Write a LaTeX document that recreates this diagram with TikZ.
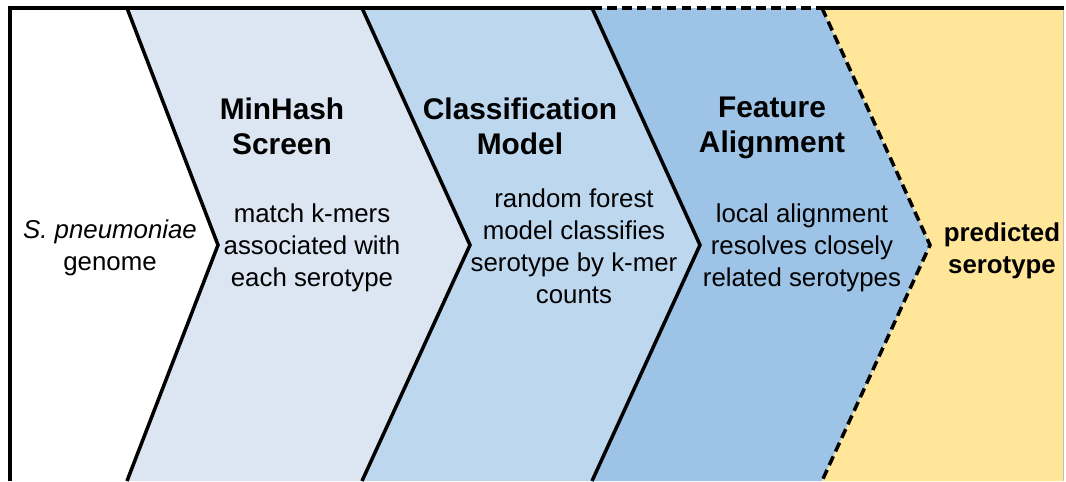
\documentclass[tikz,border=0pt]{standalone}
\usepackage{fontspec}
\setmainfont{Liberation Sans}
\usepackage{tikz}
\usetikzlibrary{positioning}
\definecolor{screenfill}{HTML}{DCE6F2}
\definecolor{modelfill}{HTML}{BDD7EE}
\definecolor{alignfill}{HTML}{9DC3E6}
\definecolor{resultfill}{HTML}{FFE699}

\begin{document}
\begin{tikzpicture}[x=0.02cm, y=-0.02cm,
  edge/.style={line width=2pt, line join=miter},
  dashedge/.style={edge, dash pattern=on 5.5pt off 3pt},
  title/.style={align=center, font=\fontsize{17}{19.8}\selectfont\bfseries},
  body/.style={align=center, font=\fontsize{14.7}{18.2}\selectfont}]
  \useasboundingbox (0,0) rectangle (1066,481);

  % chevron fills
  \fill[screenfill] (127,8) -- (362,8) -- (470,245) -- (362,481) -- (127,481) -- (218,245) -- cycle;
  \fill[modelfill] (362,8) -- (592,8) -- (700,245) -- (592,481) -- (362,481) -- (470,245) -- cycle;
  \fill[alignfill] (592,8) -- (822,8) -- (930,245) -- (822,481) -- (592,481) -- (700,245) -- cycle;
  \fill[resultfill] (822,8) -- (1063,8) -- (1063,481) -- (822,481) -- (930,245) -- cycle;
  \draw[gray!50, line width=0.4pt] (1063,8) -- (1063,481);

  % frame and borders
  \draw[edge] (10,481) -- (10,8) -- (592,8);
  \draw[dashedge] (592,8) -- (822,8);
  \draw[edge] (822,8) -- (1064,8);
  \draw[edge] (127,8) -- (218,245) -- (127,481);
  \draw[edge] (362,8) -- (470,245) -- (362,481);
  \draw[edge] (592,8) -- (700,245) -- (592,481);
  \draw[dashedge] (822,8) -- (930,245) -- (822,481);

  % texts
  \node[body] (genome) at (110,248) {\textit{S. pneumoniae}\\genome};
  \node[title] (minhash) at (282,126) {MinHash\\Screen};
  \node[body] (minhashtext) at (312,248) {match k-mers\\associated with\\each serotype};
  \node[title] (classmodel) at (520,126) {Classification\\Model};
  \node[body] (classtext) at (574,246) {random forest\\model classifies\\serotype by k-mer\\counts};
  \node[title] (featalign) at (772,128) {Feature\\Alignment};
  \node[body] (feattext) at (802,248) {local alignment\\resolves closely\\related serotypes};
  \node[body, font=\fontsize{14.7}{18.2}\selectfont\bfseries] (predicted) at (1002,251) {predicted\\serotype};
\end{tikzpicture}
\end{document}
